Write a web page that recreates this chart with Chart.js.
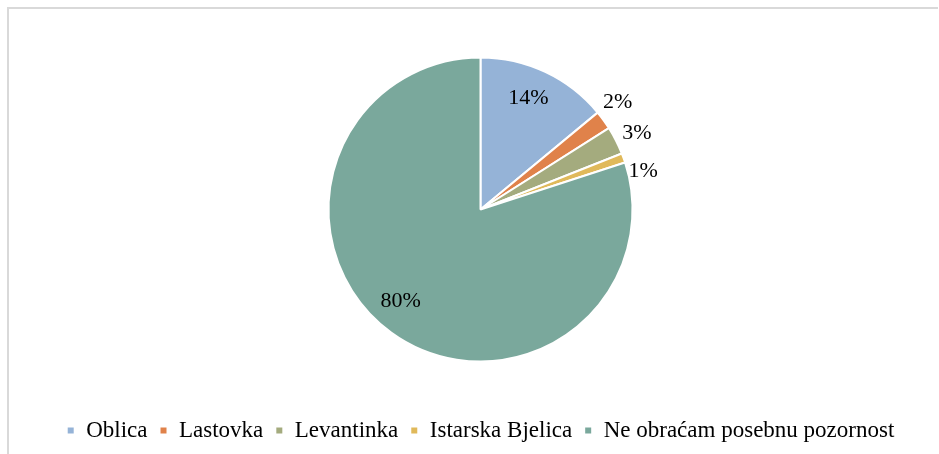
<!doctype html>
<html lang="hr">
<head>
<meta charset="utf-8" />
<script src="https://cdn.jsdelivr.net/npm/chart.js@4.4.1/dist/chart.umd.min.js"></script>
<style>
  html, body { margin: 0; padding: 0; width: 939px; height: 454px; background: #fff; overflow: hidden; }
  .frame {
    position: absolute; left: 7px; top: 7px; width: 931px; height: 460px;
    border-left: 2px solid #d9d9d9; border-top: 2px solid #d9d9d9;
    box-sizing: border-box;
  }
  .wrap { position: absolute; left: 0; top: 0; width: 939px; height: 454px; }
</style>
</head>
<body>
<div class="frame"></div>
<div class="wrap"><canvas id="chart" width="939" height="454"></canvas></div>
<script>
const categories = ['Oblica', 'Lastovka', 'Levantinka', 'Istarska Bjelica', 'Ne obraćam posebnu pozornost'];
const shares = [14, 2, 3, 1, 80];
const colors = ['#95b3d7', '#e0824a', '#a4ab7e', '#e0b95a', '#7aa89c'];
// label placement: distance as a fraction of radius, plus small angle nudge (deg)
const labelDist = [0.8, 1.145, 1.145, 1.10, 0.8];
const labelNudge = [-2, -2, 1, 6.5, 5];

const FONT = '"Liberation Serif", "Times New Roman", serif';

const pctLabels = {
  id: 'pctLabels',
  afterDatasetsDraw(chart) {
    const ctx = chart.ctx;
    const meta = chart.getDatasetMeta(0);
    ctx.save();
    ctx.font = '22px ' + FONT;
    ctx.fillStyle = '#000';
    ctx.textAlign = 'center';
    ctx.textBaseline = 'middle';
    meta.data.forEach((arc, i) => {
      const mid = (arc.startAngle + arc.endAngle) / 2 + labelNudge[i] * Math.PI / 180;
      const r = arc.outerRadius * labelDist[i];
      const x = arc.x + Math.cos(mid) * r;
      const y = arc.y + Math.sin(mid) * r;
      ctx.fillText(shares[i] + '%', x, y);
    });
    ctx.restore();
  }
};

new Chart(document.getElementById('chart'), {
  type: 'pie',
  data: {
    labels: categories,
    datasets: [{
      data: shares,
      backgroundColor: colors,
      borderColor: '#fff',
      borderWidth: 2,
      radius: 152,
    }],
  },
  options: {
    responsive: false,
    animation: false,
    layout: { padding: { top: 12, bottom: 2, left: 22, right: 0 } },
    plugins: {
      legend: {
        position: 'bottom',
        labels: {
          font: { family: FONT, size: 23 },
          color: '#000',
          boxWidth: 8,
          boxHeight: 8,
          padding: 12,
        },
      },
      tooltip: { enabled: false },
    },
  },
  plugins: [pctLabels],
});
</script>
</body>
</html>
